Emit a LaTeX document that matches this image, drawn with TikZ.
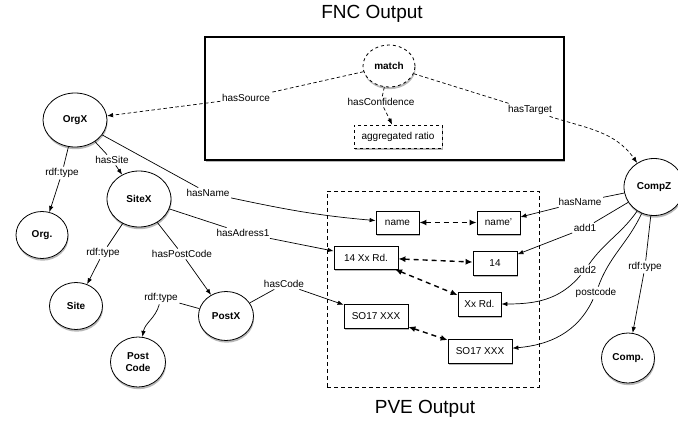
\documentclass[tikz,border=0pt]{standalone}
\usepackage{fontspec}
\setmainfont{Liberation Sans}
\usetikzlibrary{shapes.geometric,arrows.meta,shadows}
\begin{document}
\begin{tikzpicture}[x=1pt,y=1pt,
  shd/.style={drop shadow={shadow xshift=0.6pt, shadow yshift=-2.2pt, opacity=0.28, fill=black}},
  ent/.style={ellipse, draw, line width=0.8pt, fill=white, inner sep=0pt, align=center,
    font=\fontsize{10}{11.5}\selectfont\bfseries, shd},
  valbox/.style={rectangle, draw, line width=0.8pt, fill=white, inner sep=0pt,
    minimum height=23pt, font=\fontsize{10}{12}\selectfont, shd},
  lbl/.style={fill=white, inner sep=1.5pt, font=\fontsize{10}{12}\selectfont},
  title/.style={font=\fontsize{19}{22}\selectfont},
  rel/.style={line width=0.7pt, -{Latex[length=6pt,width=4.5pt]}},
  drel/.style={rel, dash pattern=on 3.5pt off 2.5pt},
  link/.style={line width=1.4pt, dash pattern=on 5pt off 4pt,
    {Latex[length=7pt,width=6pt]}-{Latex[length=7pt,width=6pt]}}]
\useasboundingbox (0,0) rectangle (678,-423);

% frames
\node[draw, line width=2.6pt, minimum width=359pt, minimum height=123pt, inner sep=0pt, fill=white, shd] (fnc) at (384.5,-98.5) {};
\node[draw, line width=0.8pt, dash pattern=on 4pt off 3pt, minimum width=212pt, minimum height=196pt, inner sep=0pt] (pve) at (433,-289) {};
\node[title] (fnct) at (372,-14) {FNC Output};
\node[title] (pvet) at (425,-409) {PVE Output};

% FNC content
\node[ent, dashed, minimum width=52pt, minimum height=42pt] (match) at (389,-66) {match};
\node[valbox, dashed, minimum width=88pt] (aggr) at (398,-136.5) {aggregated ratio};

% entities
\node[ent, minimum width=64pt, minimum height=54pt] (OrgX) at (75,-120) {OrgX};
\node[ent, minimum width=52pt, minimum height=47pt] (Org) at (42,-235) {Org.};
\node[ent, minimum width=64pt, minimum height=56pt] (SiteX) at (139,-199) {SiteX};
\node[ent, minimum width=53pt, minimum height=47pt] (Site) at (76,-306) {Site};
\node[ent, minimum width=55pt, minimum height=49pt] (PostX) at (226,-316) {PostX};
\node[ent, minimum width=55pt, minimum height=50pt] (PostCode) at (138,-362) {Post\\Code};
\node[ent, minimum width=60pt, minimum height=57pt] (CompZ) at (654,-187) {CompZ};
\node[ent, minimum width=53pt, minimum height=50pt] (Comp) at (628,-358) {Comp.};

% value boxes
\node[valbox, minimum width=43pt] (name) at (397.5,-222.5) {name};
\node[valbox, minimum width=43pt] (nameP) at (498.5,-222.5) {name'};
\node[valbox, minimum width=64pt] (b14xx) at (366,-257.5) {14 Xx Rd.};
\node[valbox, minimum width=44pt, minimum height=24pt] (b14) at (495,-263) {14};
\node[valbox, minimum width=43pt, minimum height=24pt] (XxRd) at (479.5,-304) {Xx Rd.};
\node[valbox, minimum width=64pt, minimum height=24pt] (SOL) at (376,-316) {SO17 XXX};
\node[valbox, minimum width=64pt, minimum height=24pt] (SOR) at (480,-351) {SO17 XXX};

% labels
\node[lbl] (lSource) at (246,-98) {hasSource};
\node[lbl] (lConf) at (381,-102) {hasConfidence};
\node[lbl] (lTarget) at (530,-110) {hasTarget};
\node[lbl] (lrdf1) at (62,-173) {rdf:type};
\node[lbl] (lSite) at (112,-160) {hasSite};
\node[lbl] (lName1) at (208,-193) {hasName};
\node[lbl] (lAdr) at (243,-233) {hasAdress1};
\node[lbl] (lrdf2) at (103,-253) {rdf:type};
\node[lbl] (lPC) at (182,-254) {hasPostCode};
\node[lbl] (lrdf3) at (161,-298) {rdf:type};
\node[lbl] (lCode) at (284,-284) {hasCode};
\node[lbl] (lName2) at (580,-202) {hasName};
\node[lbl] (ladd1) at (585,-228) {add1};
\node[lbl] (ladd2) at (585,-270) {add2};
\node[lbl] (lPost) at (596,-293) {postcode};
\node[lbl] (lrdf4) at (645,-267) {rdf:type};

% FNC connectors
\draw[drel] (match) -- (lSource) -- (OrgX);
\draw[drel] (match) -- (lConf) -- (aggr);
\draw[drel] (match) -- (lTarget) to[out=-18,in=125] (CompZ);

% source graph
\draw[rel] (OrgX) -- (lrdf1) -- (Org);
\draw[rel] (OrgX) -- (lSite) -- (SiteX);
\draw[rel] (OrgX) -- (lName1) to[out=-12,in=175] (name);
\draw[rel] (SiteX) -- (lAdr) -- (b14xx);
\draw[rel] (SiteX) -- (lrdf2) -- (Site);
\draw[rel] (SiteX) -- (lPC) -- (PostX);
\draw[rel] (PostX) -- (lrdf3) to[out=-105,in=80] (PostCode);
\draw[rel] (PostX) -- (lCode) -- (SOL);

% target graph
\draw[rel] (CompZ) -- (lName2) -- (nameP);
\draw[rel] (CompZ) -- (ladd1) -- (b14);
\draw[rel] (CompZ) to[out=-125,in=55] (ladd2) to[out=-130,in=0] (XxRd);
\draw[rel] (CompZ) to[out=-115,in=70] (lPost) to[out=-115,in=5] (SOR);
\draw[rel] (CompZ) -- (lrdf4) -- (Comp);

% PVE links
\draw[link] (name) -- (nameP);
\draw[link] (b14xx) -- (b14);
\draw[link] (b14xx) -- (XxRd);
\draw[link] (SOL) -- (SOR);
\end{tikzpicture}
\end{document}
